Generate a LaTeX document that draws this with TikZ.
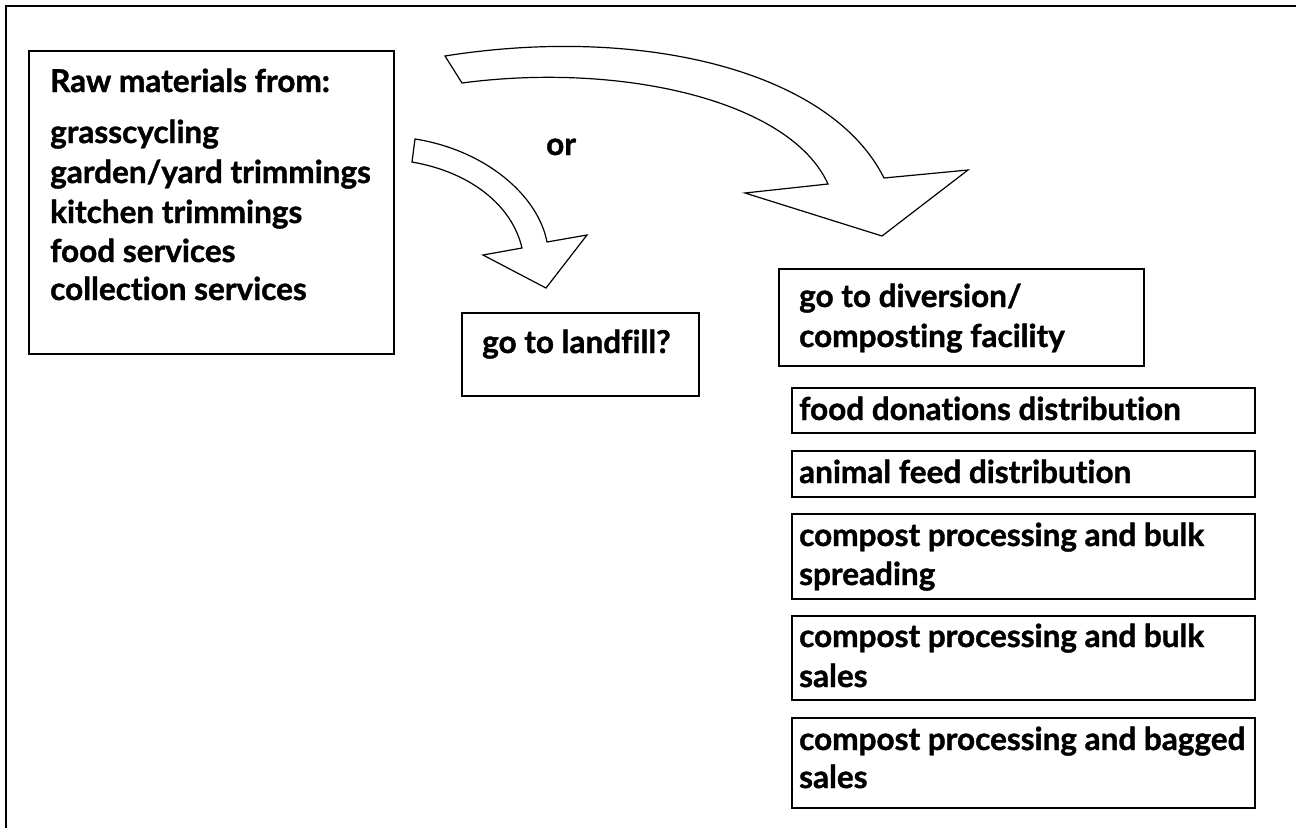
\documentclass[tikz,border=0pt]{standalone}
\usepackage{fontspec}
\setmainfont{Lato}[Ligatures=NoCommon, BoldFeatures={FakeBold=1.2}]
\begin{document}
\begin{tikzpicture}[x=1pt,y=-1pt,
  box/.style={draw, line width=1.5pt, rectangle, inner sep=0pt, anchor=north west},
  txt/.style={anchor=base west, inner sep=0pt, font=\fontsize{31.5}{39}\selectfont\bfseries},
  blockarrow/.style={draw, line width=1.2pt, fill=white, line join=miter}]
\useasboundingbox (0,0) rectangle (1296,828);
\fill[white] (0,0) rectangle (1296,828);
\draw[line width=2pt] (5.7,828) -- (5.7,5.7) -- (1296,5.7);

% boxes
\node[box, minimum width=365pt, minimum height=303pt] (raw) at (28,50) {};
\node[box, minimum width=237pt, minimum height=83pt] (landfill) at (461,312) {};
\node[box, minimum width=365pt, minimum height=97pt] (diversion) at (778,268) {};
\node[box, minimum width=463pt, minimum height=45pt] (b1) at (791,387) {};
\node[box, minimum width=463pt, minimum height=46pt] (b2) at (791,450) {};
\node[box, minimum width=463pt, minimum height=85pt] (b3) at (791,513) {};
\node[box, minimum width=463pt, minimum height=84pt] (b4) at (791,615) {};
\node[box, minimum width=463pt, minimum height=90pt] (b5) at (791,717) {};

% texts
\node[txt] (rawT) at (50,92) {Raw materials from:};
\node[txt] (r1) at (50,143) {grasscycling};
\node[txt] (r2) at (50,183) {garden/yard trimmings};
\node[txt] (r3) at (50,223) {kitchen trimmings};
\node[txt] (r4) at (50,262) {food services};
\node[txt] (r5) at (50,300) {collection services};
\node[txt] (lT) at (482,353) {go to landfill?};
\node[txt] (orT) at (546,155) {or};
\node[txt] (d1) at (799,307) {go to diversion/};
\node[txt] (d2) at (799,347) {composting facility};
\node[txt] (b1T) at (799,420) {food donations distribution};
\node[txt] (b2T) at (799,483) {animal feed distribution};
\node[txt] (b3T) at (799,546) {compost processing and bulk};
\node[txt] (b3U) at (799,585) {spreading};
\node[txt] (b4T) at (799,647) {compost processing and bulk};
\node[txt] (b4U) at (799,687) {sales};
\node[txt] (b5T) at (799,750) {compost processing and bagged};
\node[txt] (b5U) at (799,788) {sales};

% block arrows
\draw[blockarrow] (445,56) .. controls (640,25) and (830,70) .. (884,178)
  -- (968,170) -- (882,236) -- (745,193) -- (828,184)
  .. controls (790,100) and (620,62) .. (462,83) -- cycle;
\draw[blockarrow] (415,139) .. controls (485,150) and (538,195) .. (547,242)
  -- (587,235) -- (546,288) -- (483,255) -- (522,248)
  .. controls (512,205) and (470,172) .. (412,162) -- cycle;
\end{tikzpicture}
\end{document}
